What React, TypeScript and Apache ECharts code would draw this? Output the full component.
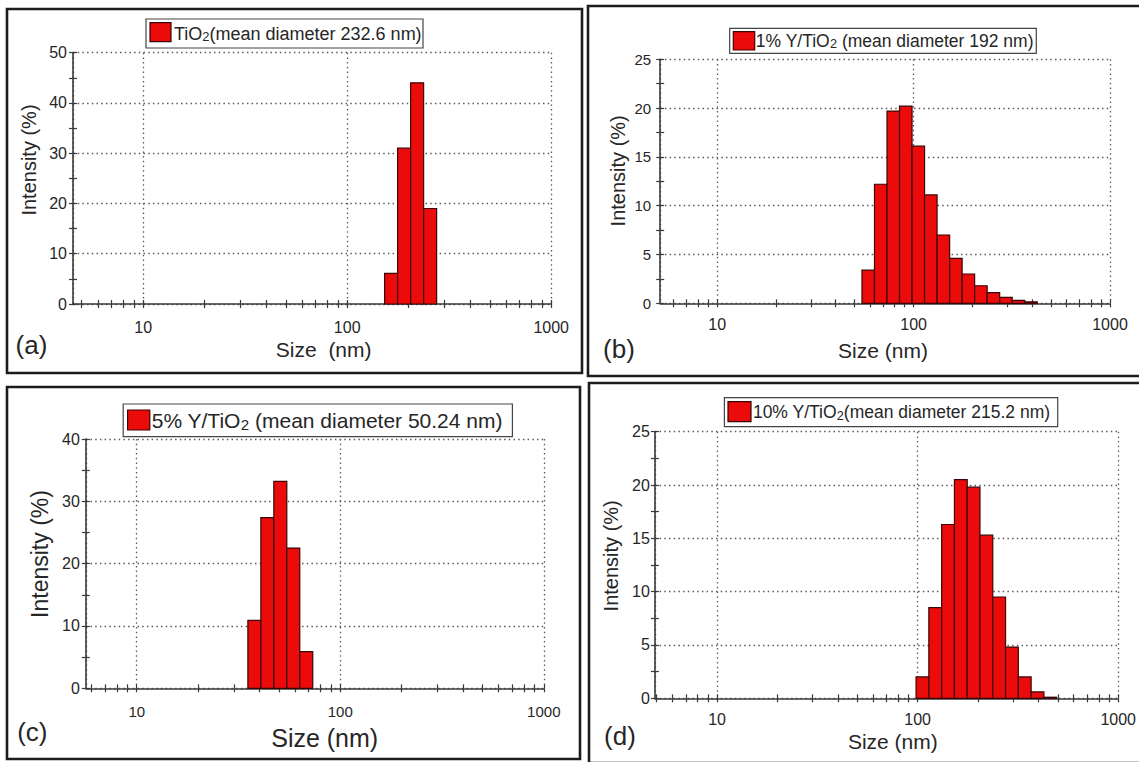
import React, { useEffect, useRef } from 'react';
import * as echarts from 'echarts';

// ---------------- data ----------------
const SIZES_A = [164.2, 190.1, 220.2, 255.0];
const INTENSITY_A = [6.1, 31.0, 44.0, 19.0];

const SIZES_B = [58.77, 68.06, 78.82, 91.28, 105.7, 122.4, 141.8, 164.2, 190.1, 220.2, 255.0, 295.3, 342.0, 396.1];
const INTENSITY_B = [3.4, 12.2, 19.7, 20.2, 16.1, 11.1, 7.0, 4.6, 3.0, 1.8, 1.1, 0.6, 0.3, 0.15];

const SIZES_C = [37.84, 43.82, 50.75, 58.77, 68.06];
const INTENSITY_C = [10.9, 27.4, 33.2, 22.5, 5.9];

const SIZES_D = [105.7, 122.4, 141.8, 164.2, 190.1, 220.2, 255.0, 295.3, 342.0, 396.1, 458.7];
const INTENSITY_D = [2.0, 8.5, 16.3, 20.5, 19.8, 15.3, 9.5, 4.8, 2.0, 0.6, 0.1];

const X_TICKS = [5, 6, 7, 8, 9, 10, 20, 30, 40, 50, 60, 70, 80, 90, 100, 200, 300, 400, 500, 600, 700, 800, 900, 1000];
const X_LABELS = [10, 100, 1000];
const Y_TICKS_A = [0, 5, 10, 15, 20, 25, 30, 35, 40, 45, 50];
const Y_TICKS_B = [0, 2.5, 5, 7.5, 10, 12.5, 15, 17.5, 20, 22.5, 25];
const Y_TICKS_C = [0, 5, 10, 15, 20, 25, 30, 35, 40];
const Y_TICKS_D = [0, 2.5, 5, 7.5, 10, 12.5, 15, 17.5, 20, 22.5, 25];

const LEGEND_A = ['TiO', '2', '(mean diameter 232.6 nm)'];
const LEGEND_B = ['1% Y/TiO', '2', ' (mean diameter 192 nm)'];
const LEGEND_C = ['5% Y/TiO', '2', ' (mean diameter 50.24 nm)'];
const LEGEND_D = ['10% Y/TiO', '2', '(mean diameter 215.2 nm)'];

// Zetasizer size classes are log-spaced with ratio ~1.158 between neighbours
const BIN_HALF = Math.sqrt(1.158);

// ---------------- styles ----------------
const FONT = "'Liberation Sans', Arial, Helvetica, sans-serif";
const RED = '#ec0b0b';
const BAR_EDGE = '#3a0505';
const INK = '#262626';
const AXIS = '#3a3a3a';
const GRID_LINE = { color: '#5a5a5a', width: 1.3, type: [1.5, 3.2] as any };
const TICK_STYLE = { color: AXIS, width: 1.2 };

const PANELS = [
  {
    sizes: SIZES_A, vals: INTENSITY_A, yTicks: Y_TICKS_A, yMax: 50, yInterval: 10, xMin: 4.53,
    grid: { left: 73, top: 52.7, width: 478.2, height: 251.3 },
    box: [7, 9, 575, 364],
    legend: { box: [146, 19, 277, 29], swatch: [150, 22.7, 21, 19], tx: 174, fs: 18, parts: LEGEND_A },
    yTitle: { x: 28.7, y: 160, fs: 20 },
    xTitle: { x: 323.7, y: 349, fs: 21, text: 'Size  (nm)' },
    tag: { x: 31.5, y: 345, fs: 26, text: '(a)' },
    xFont: 16, yFont: 16, xMargin: 15, yMargin: 6,
  },
  {
    sizes: SIZES_B, vals: INTENSITY_B, yTicks: Y_TICKS_B, yMax: 25, yInterval: 5, xMin: 5.13,
    grid: { left: 660.2, top: 59.3, width: 449.8, height: 244 },
    box: [588, 6, 553, 370],
    legend: { box: [729.7, 28.3, 306.6, 25], swatch: [733.3, 31.7, 21.4, 18.3], tx: 755.8, fs: 17.5, parts: LEGEND_B },
    yTitle: { x: 618.3, y: 170.8, fs: 20 },
    xTitle: { x: 883, y: 350.8, fs: 21, text: 'Size (nm)' },
    tag: { x: 619, y: 348.5, fs: 26, text: '(b)' },
    xFont: 16, yFont: 15, xMargin: 13, yMargin: 9,
  },
  {
    sizes: SIZES_C, vals: INTENSITY_C, yTicks: Y_TICKS_C, yMax: 40, yInterval: 10, xMin: 5.62,
    grid: { left: 85.8, top: 439, width: 458, height: 249.3 },
    box: [7, 387, 573, 372],
    legend: { box: [123.2, 404, 389.2, 32.7], swatch: [127.6, 410, 22.2, 20], tx: 151.7, fs: 21, parts: LEGEND_C },
    yTitle: { x: 39.8, y: 554, fs: 23 },
    xTitle: { x: 324.7, y: 737.5, fs: 25, text: 'Size (nm)' },
    tag: { x: 32.3, y: 731.7, fs: 26, text: '(c)' },
    xFont: 15, yFont: 16, xMargin: 16, yMargin: 6,
  },
  {
    sizes: SIZES_D, vals: INTENSITY_D, yTicks: Y_TICKS_D, yMax: 25, yInterval: 5, xMin: 4.9,
    grid: { left: 654.9, top: 431.7, width: 465.2, height: 266.6 },
    box: [589, 383, 552, 380],
    legend: { box: [724.4, 397.7, 333.3, 29], swatch: [728, 401.7, 23, 20], tx: 752.9, fs: 17.5, parts: LEGEND_D },
    yTitle: { x: 611.2, y: 555.8, fs: 20 },
    xTitle: { x: 892.8, y: 741.5, fs: 21, text: 'Size (nm)' },
    tag: { x: 620, y: 735.8, fs: 26, text: '(d)' },
    xFont: 16, yFont: 16, xMargin: 13, yMargin: 5,
  },
];

function renderBar(_params: any, api: any) {
  const lo = api.value(0);
  const hi = api.value(1);
  const v = api.value(2);
  const p1 = api.coord([lo, v]);
  const p2 = api.coord([hi, 0]);
  return {
    type: 'rect',
    shape: { x: p1[0], y: p1[1], width: p2[0] - p1[0], height: p2[1] - p1[1] },
    style: { fill: RED, stroke: BAR_EDGE, lineWidth: 1.2 },
  };
}

function buildOption() {
  const grid: any[] = [];
  const xAxis: any[] = [];
  const yAxis: any[] = [];
  const series: any[] = [];
  const graphic: any[] = [];

  PANELS.forEach((p, i) => {
    grid.push({ ...p.grid, containLabel: false });
    const xTicks = X_TICKS.filter((v) => v >= p.xMin);
    const baseX = { type: 'log', logBase: 10, min: p.xMin, max: 1000, gridIndex: i, position: 'bottom' };
    // main x axis: line, labels, decade grid lines
    xAxis.push({
      ...baseX,
      axisLine: { show: true, onZero: false, lineStyle: { color: AXIS, width: 1.6 } },
      axisTick: { show: false },
      axisLabel: {
        show: true, customValues: X_LABELS, margin: p.xMargin, fontSize: p.xFont, fontFamily: FONT, color: INK,
        formatter: (v: number) => String(Math.round(v)),
      },
      splitLine: { show: true, lineStyle: GRID_LINE },
    });
    // tick marks crossing the axis (outside + inside)
    [false, true].forEach((inside) => {
      xAxis.push({
        ...baseX,
        axisLine: { show: false },
        axisTick: { show: true, inside, customValues: xTicks, length: 4, lineStyle: TICK_STYLE },
        axisLabel: { show: false },
        splitLine: { show: false },
      });
    });
    const baseY = { type: 'value', min: 0, max: p.yMax, interval: p.yInterval, gridIndex: i, position: 'left' };
    yAxis.push({
      ...baseY,
      axisLine: { show: true, onZero: false, lineStyle: { color: AXIS, width: 1.6 } },
      axisTick: { show: false },
      axisLabel: { show: true, margin: p.yMargin, fontSize: p.yFont, fontFamily: FONT, color: INK },
      splitLine: { show: true, lineStyle: GRID_LINE },
    });
    [false, true].forEach((inside) => {
      yAxis.push({
        ...baseY,
        axisLine: { show: false },
        axisTick: { show: true, inside, customValues: p.yTicks, length: 4, lineStyle: TICK_STYLE },
        axisLabel: { show: false },
        splitLine: { show: false },
      });
    });
    series.push({
      type: 'custom',
      name: p.legend.parts.join(''),
      xAxisIndex: 3 * i,
      yAxisIndex: 3 * i,
      silent: true,
      renderItem: renderBar,
      encode: { x: [0, 1], y: 2 },
      data: p.sizes.map((s, k) => [s / BIN_HALF, s * BIN_HALF, p.vals[k]]),
      z: 3,
    });

    // panel border
    graphic.push({
      type: 'rect',
      shape: { x: p.box[0], y: p.box[1], width: p.box[2], height: p.box[3] },
      style: { fill: 'none', stroke: '#1c1c1c', lineWidth: 2.6 },
      z: 10,
    });
    // legend box
    const L = p.legend;
    graphic.push({
      type: 'rect',
      shape: { x: L.box[0], y: L.box[1], width: L.box[2], height: L.box[3] },
      style: { fill: '#fff', stroke: '#444', lineWidth: 1.2 },
      z: 10,
    });
    graphic.push({
      type: 'rect',
      shape: { x: L.swatch[0], y: L.swatch[1], width: L.swatch[2], height: L.swatch[3] },
      style: { fill: RED, stroke: BAR_EDGE, lineWidth: 1.2 },
      z: 11,
    });
    graphic.push({
      type: 'text',
      x: L.tx,
      y: L.box[1] + L.box[3] / 2,
      z: 11,
      style: {
        text: `{n|${L.parts[0]}}{s|${L.parts[1]}}{n|${L.parts[2]}}`,
        align: 'left',
        verticalAlign: 'middle',
        rich: {
          n: { fontSize: L.fs, fontFamily: FONT, fill: INK },
          s: { fontSize: L.fs * 0.72, fontFamily: FONT, fill: INK, padding: [L.fs * 0.38, 0, 0, 0] },
        },
      },
    });
    // axis titles
    graphic.push({
      type: 'text',
      x: p.yTitle.x,
      y: p.yTitle.y,
      rotation: Math.PI / 2,
      z: 11,
      style: {
        text: 'Intensity (%)', fontSize: p.yTitle.fs, fontFamily: FONT, fill: INK,
        align: 'center', verticalAlign: 'middle',
      },
    });
    graphic.push({
      type: 'text',
      x: p.xTitle.x,
      y: p.xTitle.y,
      z: 11,
      style: {
        text: p.xTitle.text, fontSize: p.xTitle.fs, fontFamily: FONT, fill: INK,
        align: 'center', verticalAlign: 'middle',
      },
    });
    graphic.push({
      type: 'text',
      x: p.tag.x,
      y: p.tag.y,
      z: 11,
      style: {
        text: p.tag.text, fontSize: p.tag.fs, fontFamily: FONT, fill: INK,
        align: 'center', verticalAlign: 'middle',
      },
    });
  });

  return {
    animation: false,
    backgroundColor: '#ffffff',
    grid,
    xAxis,
    yAxis,
    series,
    graphic,
  };
}

export default function App() {
  const ref = useRef<HTMLDivElement>(null);
  useEffect(() => {
    const chart = echarts.init(ref.current as HTMLDivElement, null, { renderer: 'svg' });
    chart.setOption(buildOption() as any);
    return () => chart.dispose();
  }, []);
  return (
    <div
      ref={ref}
      style={{ position: 'fixed', left: 0, top: 0, width: 1139, height: 762, background: '#fff' }}
    />
  );
}
